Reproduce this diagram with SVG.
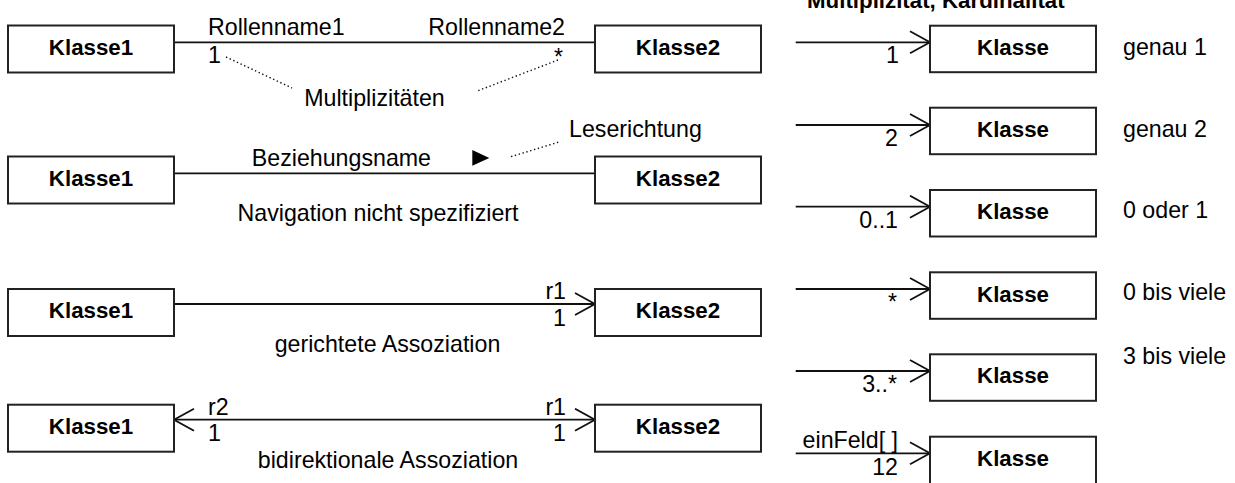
<svg xmlns="http://www.w3.org/2000/svg" width="1235" height="483" viewBox="0 0 1235 483">
<style>
.box{fill:#fff;stroke:#222;stroke-width:2}
.cls{font-family:"Liberation Sans",Arial,sans-serif;font-weight:bold;font-size:22.3px;fill:#000;text-anchor:middle}
.t{font-family:"Liberation Sans",Arial,sans-serif;font-size:23.2px;fill:#000}
.ln{fill:none;stroke:#111;stroke-width:1.8}
.dot{fill:none;stroke:#111;stroke-width:1.4;stroke-dasharray:1.4 2.6}
.e{text-anchor:end}
.m{text-anchor:middle}
</style>
<defs>
<marker id="open" markerWidth="24" markerHeight="26" refX="21" refY="12" orient="auto" markerUnits="userSpaceOnUse">
<path d="M1,1 L21,12 L1,23" fill="none" stroke="#111" stroke-width="1.8"/>
</marker>
<marker id="openStart" markerWidth="24" markerHeight="26" refX="21" refY="12" orient="auto-start-reverse" markerUnits="userSpaceOnUse">
<path d="M1,1 L21,12 L1,23" fill="none" stroke="#111" stroke-width="1.8"/>
</marker>
</defs>

<g id="connectors">
<line class="ln" x1="174" y1="42.3" x2="595" y2="42.3"/>
<line class="ln" x1="174" y1="173.3" x2="595" y2="173.3"/>
<line class="ln" x1="174" y1="304" x2="595" y2="304" marker-end="url(#open)"/>
<line class="ln" x1="174" y1="419.7" x2="595" y2="419.7" marker-start="url(#openStart)" marker-end="url(#open)"/>
<line class="ln" x1="795.7" y1="42.3" x2="930" y2="42.3" marker-end="url(#open)"/>
<line class="ln" x1="795.7" y1="125" x2="930" y2="125" marker-end="url(#open)"/>
<line class="ln" x1="795.7" y1="206.7" x2="930" y2="206.7" marker-end="url(#open)"/>
<line class="ln" x1="795.7" y1="289" x2="930" y2="289" marker-end="url(#open)"/>
<line class="ln" x1="795.7" y1="371" x2="930" y2="371" marker-end="url(#open)"/>
<line class="ln" x1="795.7" y1="453.3" x2="930" y2="453.3" marker-end="url(#open)"/>
<line class="dot" x1="226" y1="57" x2="292" y2="88"/>
<line class="dot" x1="558" y1="60" x2="478" y2="90.7"/>
<line class="dot" x1="511" y1="156.7" x2="560" y2="141.7"/>
<polygon points="472.3,150 489.3,158 472.3,165.7" fill="#000"/>
</g>

<g id="labels">
<text class="t" x="208" y="35">Rollenname1</text>
<text class="t e" x="565" y="35">Rollenname2</text>
<text class="t" x="208" y="63">1</text>
<text class="t e" x="563" y="65">*</text>
<text class="t m" x="374.5" y="106">Multiplizitäten</text>
<text class="t e" x="431" y="166">Beziehungsname</text>
<text class="t" x="569" y="136.7">Leserichtung</text>
<text class="t m" x="378" y="221">Navigation nicht spezifiziert</text>
<text class="t e" x="566" y="299">r1</text>
<text class="t e" x="566" y="326">1</text>
<text class="t m" x="387.5" y="352">gerichtete Assoziation</text>
<text class="t" x="208" y="415">r2</text>
<text class="t" x="208" y="441">1</text>
<text class="t e" x="566" y="415">r1</text>
<text class="t e" x="566" y="441">1</text>
<text class="t m" x="388" y="468">bidirektionale Assoziation</text>
<text class="cls" x="807" y="8" style="text-anchor:start">Multiplizität, Kardinalität</text>
<text class="t e" x="899" y="63.3">1</text>
<text class="t e" x="898" y="146">2</text>
<text class="t e" x="898" y="227.7">0..1</text>
<text class="t e" x="897" y="310">*</text>
<text class="t e" x="897" y="392">3..*</text>
<text class="t e" x="898" y="448.3">einFeld[ ]</text>
<text class="t e" x="898" y="475">12</text>
<text class="t" x="1123" y="55">genau 1</text>
<text class="t" x="1123" y="136.7">genau 2</text>
<text class="t" x="1123" y="218.3">0 oder 1</text>
<text class="t" x="1123" y="300">0 bis viele</text>
<text class="t" x="1123" y="364.3">3 bis viele</text>
</g>

<g id="n1_klasse1"><rect class="box" x="8" y="25.5" width="166" height="47"/><text class="cls" x="91" y="54.5">Klasse1</text></g>
<g id="n1_klasse2"><rect class="box" x="595" y="25.5" width="166" height="47"/><text class="cls" x="678" y="54.5">Klasse2</text></g>
<g id="n2_klasse1"><rect class="box" x="8" y="156.5" width="166" height="47"/><text class="cls" x="91" y="185.5">Klasse1</text></g>
<g id="n2_klasse2"><rect class="box" x="595" y="156.5" width="166" height="47"/><text class="cls" x="678" y="185.5">Klasse2</text></g>
<g id="n3_klasse1"><rect class="box" x="8" y="289" width="166" height="47"/><text class="cls" x="91" y="318">Klasse1</text></g>
<g id="n3_klasse2"><rect class="box" x="595" y="289" width="166" height="47"/><text class="cls" x="678" y="318">Klasse2</text></g>
<g id="n4_klasse1"><rect class="box" x="8" y="404.7" width="166" height="47"/><text class="cls" x="91" y="433.7">Klasse1</text></g>
<g id="n4_klasse2"><rect class="box" x="595" y="404.7" width="166" height="47"/><text class="cls" x="678" y="433.7">Klasse2</text></g>

<g id="r1_klasse"><rect class="box" x="930" y="25.7" width="166" height="46.5"/><text class="cls" x="1013" y="55">Klasse</text></g>
<g id="r2_klasse"><rect class="box" x="930" y="107.7" width="166" height="46.5"/><text class="cls" x="1013" y="137">Klasse</text></g>
<g id="r3_klasse"><rect class="box" x="930" y="190" width="166" height="46.5"/><text class="cls" x="1013" y="219.3">Klasse</text></g>
<g id="r4_klasse"><rect class="box" x="930" y="272.3" width="166" height="46.5"/><text class="cls" x="1013" y="301.6">Klasse</text></g>
<g id="r5_klasse"><rect class="box" x="930" y="354.3" width="166" height="46.5"/><text class="cls" x="1013" y="383.3">Klasse</text></g>
<g id="r6_klasse"><rect class="box" x="930" y="436.7" width="166" height="48"/><text class="cls" x="1013" y="465.7">Klasse</text></g>
</svg>
